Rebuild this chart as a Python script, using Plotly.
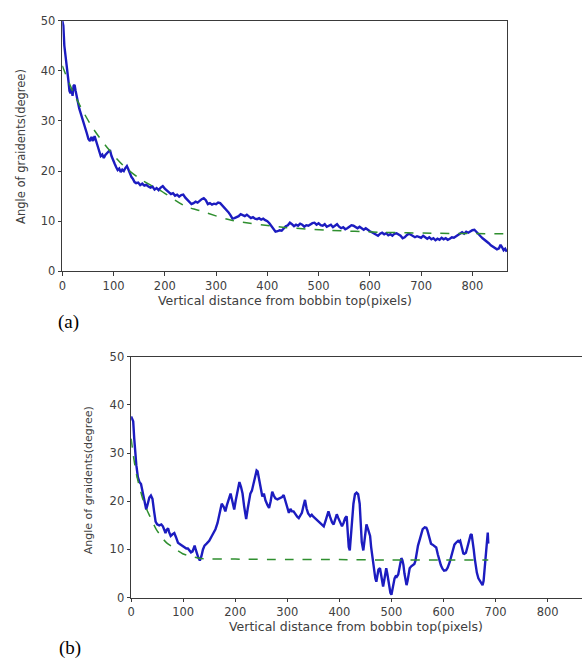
import plotly.graph_objects as go

# ---------------- data (a) ----------------
a_x = [0,2,4,6,8,10,12,14,16,18,20,22,24,26,28,30,33,36,39,42,45,48,51,54,57,60,63,66,69,72,75,78,81,84,87,90,93,96,99,
       102,105,108,111,114,117,120,123,126,129,132,135,138,141,144,148,152,156,160,164,168,172,176,180,184,188,192,196,200,
       204,208,212,216,220,224,228,232,236,240,244,248,252,256,260,264,268,272,276,280,284,288,292,296,300,304,308,312,316,
       320,324,328,332,336,340,344,348,352,356,360,364,368,372,376,380,384,388,392,396,400,404,408,412,416,420,424,428,432,
       436,440,444,448,452,456,460,464,468,472,476,480,484,488,492,496,500,504,508,512,516,520,524,528,532,536,540,544,548,
       552,556,560,564,568,572,576,580,584,588,592,596,600,604,608,612,616,620,624,628,632,636,640,644,648,652,656,660,664,
       668,672,676,680,684,688,692,696,700,704,708,712,716,720,724,728,732,736,740,744,748,752,756,760,764,768,772,776,780,
       784,788,792,796,800,804,808,812,816,820,824,828,832,836,840,844,848,852,855,858,861,864,867]
a_y = [50,49,45,43.5,41,39.5,38,36,35.5,36.5,35,37,37.2,36,34.8,33.5,32.5,31.5,30.5,30,28.5,27.5,26.4,26,26.8,26,27,26,25,
       24.2,23,23.3,22.6,23.2,23.6,24,24.2,23,22,21.5,20.8,20.2,20.5,19.8,20.3,20,20.6,21,20.3,19.5,18.8,18.4,17.8,17.6,17.7,
       17.2,17.5,17.1,17.3,16.9,16.7,16.9,16.3,16.6,16.2,16.7,17,16.5,16.1,15.8,15.4,15.6,15.1,15.3,14.9,15.2,15.3,14.7,14.2,
       13.7,13.4,13.6,13.9,13.7,14.1,14.4,14.6,14.2,13.4,13.6,13.3,13.5,13.4,13.7,13.6,13.2,12.8,12.3,11.8,11.2,10.5,10.6,10.8,
       11,11.4,11.2,11,11.3,10.9,10.6,10.8,10.5,10.4,10.6,10.3,10.5,10.2,10,9.6,9.1,8.6,7.9,8,8.2,8.1,8.6,9,9.2,9.7,9.4,9,9.3,
       9.1,9.5,9.3,8.9,9.2,9.1,9.4,9.6,9.7,9.3,9.6,9.2,9.1,9.4,8.9,9.1,9.3,8.8,9.1,9.4,8.9,8.6,8.8,8.4,8.6,9,9.2,9.1,8.8,8.6,
       8.9,8.5,8.3,8.6,8.2,8,7.8,7.6,7.3,7.1,7.5,7.7,7.4,7.6,7.2,7.4,7.1,7.5,7.6,7.3,7.1,6.6,6.8,7.2,7.5,7.3,7.1,6.8,7,6.9,6.7,
       7.1,6.8,6.5,6.8,6.4,6.6,6.2,6.5,6.3,6.7,6.4,6.6,6.3,6.5,6.8,6.7,7,7.2,7.6,7.8,7.5,7.9,7.7,8,8.2,8.3,7.8,7.4,7,6.6,6.3,
       5.9,5.6,5.2,4.9,4.6,4.4,4.6,5.3,4.8,4.2,4.5,3.9]
a_fit_x = [0,20,40,60,90,120,155,190,240,265,330,430,520,620,720,868]
a_fit_y = [41,36,32,28.5,24.4,21,18.2,16.2,13,12.2,10.2,8.8,8.2,7.8,7.6,7.5]

# ---------------- data (b) ----------------
b_x = [0,2,4,6,8,10,13,16,19,22,25,29,32,35,38,41,44,47,50,54,58,61,64,66,68,71,73,76,79,83,86,90,94,99,103,106,109,112,
       115,118,120,122,124,126,129,132,135,138,141,145,150,155,159,162,166,170,174,178,181,184,188,191,194,198,201,204,208,
       211,214,217,219,221,224,227,229,232,235,238,241,243,246,249,252,255,258,262,265,268,271,274,277,281,286,290,293,296,
       300,303,306,309,312,316,319,322,325,328,331,334,337,340,344,347,350,353,357,360,364,367,370,373,376,379,382,386,389,
       392,395,398,402,405,408,411,414,416,418,420,422,424,427,430,433,436,439,441,443,446,448,450,452,455,457,459,461,463,
       465,467,469,471,473,475,478,480,482,484,486,488,490,492,494,496,498,500,502,504,506,508,510,513,516,519,521,523,525,
       527,529,531,533,535,538,541,544,546,548,551,555,558,560,564,567,569,572,576,579,583,586,589,592,595,598,601,605,608,
       612,615,618,621,624,628,630,632,635,638,640,643,646,649,652,654,656,658,660,662,664,667,670,673,675,677,679,681,683,
       685,686]
b_y = [37.6,37,36.6,33,30,27.5,25,24,23.6,22,20,18.3,19.5,20.8,21.2,20.5,18,15.8,15.2,15,15.2,14.8,14,13.4,14,14.4,13.6,
       12.8,13.1,13.4,12.6,11.4,11.1,10.8,10.5,10.2,10.2,9.8,9.4,9.6,10.2,10.8,10,9.1,8.3,7.7,8.6,10,10.8,11.2,11.8,12.8,13.5,
       14.2,15.5,17.5,19.5,18.8,17.9,19.2,20.8,21.6,20.2,18.3,20.2,22,24,23,21.6,19,17.3,16.3,18.5,20.8,21.6,22.2,23.5,25.2,
       26.4,26.2,24.5,22.5,21,21.6,20.2,19.2,18.6,20,22,21.2,20.6,20.4,20.6,20.9,21.3,20,18.3,17.6,18.4,17.9,17.9,17.2,16.8,
       16.5,17.2,17.6,19,20.3,18.5,17.5,16.9,17.2,16.8,16.5,16.2,15.8,15.3,15,14.8,15.8,17,17.9,16.8,15.6,15.2,16.2,17.3,16.5,
       15.3,14.8,15.5,16.5,16.9,13.5,10.5,9.8,12.5,16,19.5,21.5,21.8,21.5,19.5,15.5,11.5,9.8,12,14.5,15.2,14.2,13.2,12.8,10.5,
       8.8,7.4,5.5,4,3.3,4.5,5.8,6.1,4.5,3,2.3,3.5,5.2,6.1,5,3.5,2,1,0.6,1.8,3.2,4,4.4,4.3,4.8,6.5,8.2,7.8,6.8,5,3.5,2.6,3.5,
       5,6.1,6.5,6.7,7,7.6,8.8,10.8,12.3,13.7,14.2,14.6,14.5,14,12.5,11.2,11,10.6,10.4,9,7.5,6.7,6,5.6,5.7,6.2,7.4,8.5,9.8,11,
       11.4,11.8,11.6,11.8,10.5,9.2,9.1,9.3,10.5,12,13,13.2,12,10,8.1,6.5,5.2,4,3.4,3,2.6,3.5,6,9.4,11.8,13.5,11.2]
b_fit_x = [0,4,10,16,23,30,36,42,48,55,61,70,80,90,99,110,122,134,200,300,400,500,600,686]
b_fit_y = [33,29.7,25.7,23,20.3,18.3,16.9,15.5,14.2,13.1,12.2,11.2,10.5,9.7,9.1,8.7,8.4,8.1,8.0,7.9,7.9,7.8,7.8,7.8]

y_ticks = [0, 10, 20, 30, 40, 50]
x_ticks = [0, 100, 200, 300, 400, 500, 600, 700, 800]
x_title = "Vertical distance from bobbin top(pixels)"
y_title = "Angle of graidents(degree)"

BLUE = "#1c1cc0"
GREEN = "#2f8f2f"
AX = "#3a3a3a"
TXT = "#404040"
FONT = "DejaVu Sans"

fig = go.Figure()
fig.add_trace(go.Scatter(x=a_x, y=a_y, mode="lines", line=dict(color=BLUE, width=2.4),
                         xaxis="x", yaxis="y", showlegend=False))
fig.add_trace(go.Scatter(x=a_fit_x, y=a_fit_y, mode="lines", line=dict(color=GREEN, width=1.5, dash="dash", shape="spline", smoothing=0.8),
                         xaxis="x", yaxis="y", showlegend=False))
fig.add_trace(go.Scatter(x=b_x, y=b_y, mode="lines", line=dict(color=BLUE, width=2.4),
                         xaxis="x2", yaxis="y2", showlegend=False))
fig.add_trace(go.Scatter(x=b_fit_x, y=b_fit_y, mode="lines", line=dict(color=GREEN, width=1.5, dash="dash", shape="spline", smoothing=0.6),
                         xaxis="x2", yaxis="y2", showlegend=False))

W, H = 582, 666

def px(v):
    return v / W

def py(v):
    return 1 - v / H

axis_common = dict(showgrid=False, zeroline=False, showline=True, linecolor=AX, linewidth=1.2,
                   ticks="outside", ticklen=3.5, tickcolor=AX, tickwidth=1)
xfont = dict(family=FONT, size=11.5, color=TXT)
yfont = dict(family=FONT, size=11.5, color=TXT)

fig.update_layout(
    width=W, height=H,
    margin=dict(l=0, r=0, t=0, b=0),
    paper_bgcolor="white", plot_bgcolor="white",
    xaxis=dict(domain=[px(58.7), px(506.7)], range=[0, 868], tickvals=x_ticks, anchor="y", mirror=True,
               tickfont=xfont, **axis_common),
    yaxis=dict(domain=[py(270), py(14)], range=[0, 50], tickvals=y_ticks, anchor="x", mirror=True,
               tickfont=yfont, **axis_common),
    xaxis2=dict(domain=[px(128), 1.0], range=[0, 866], tickvals=x_ticks, anchor="y2", mirror=True,
                tickfont=xfont, **axis_common),
    yaxis2=dict(domain=[py(603.3), py(357.3)], range=[0, 50], tickvals=y_ticks, anchor="x2", mirror=False,
                tickfont=yfont, **axis_common),
    annotations=[
        dict(text=x_title, x=px(282.7), y=py(300), xref="paper", yref="paper", xanchor="center", yanchor="middle",
             showarrow=False, font=dict(family=FONT, size=12.5, color=TXT)),
        dict(text=y_title, x=px(17), y=py(142), xref="paper", yref="paper", xanchor="center", yanchor="middle",
             textangle=-90, showarrow=False, font=dict(family=FONT, size=11.5, color=TXT)),
        dict(text=x_title, x=px(354), y=py(633), xref="paper", yref="paper", xanchor="center", yanchor="middle",
             showarrow=False, font=dict(family=FONT, size=12.5, color=TXT)),
        dict(text=y_title, x=px(85), y=py(483), xref="paper", yref="paper", xanchor="center", yanchor="middle",
             textangle=-90, showarrow=False, font=dict(family=FONT, size=11, color=TXT)),
        dict(text="(a)", x=px(65), y=py(322), xref="paper", yref="paper", xanchor="center", yanchor="middle",
             showarrow=False, font=dict(family="Liberation Serif", size=19, color="black")),
        dict(text="(b)", x=px(66), y=py(655), xref="paper", yref="paper", xanchor="center", yanchor="middle",
             showarrow=False, font=dict(family="Liberation Serif", size=19, color="black")),
    ],
)

fig.write_html("out.html", config={"displayModeBar": False},
               post_script="document.body.style.margin='0';document.body.style.overflow='hidden';")
